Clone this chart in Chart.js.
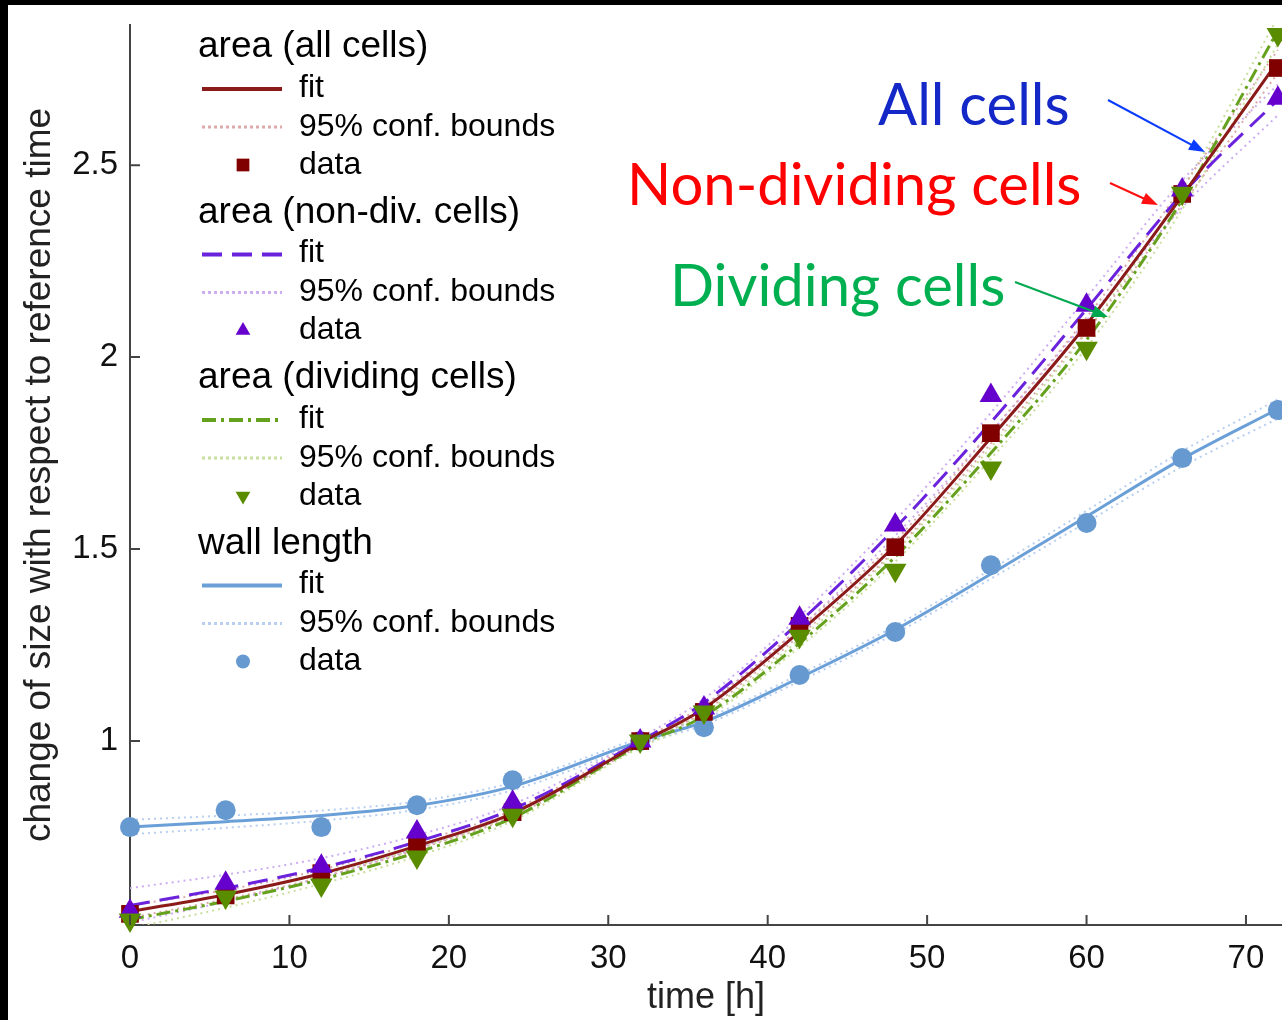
<!DOCTYPE html>
<html lang="en">
<head>
  <meta charset="UTF-8" />
  <title>Change of size over time</title>
  <script src="https://cdn.jsdelivr.net/npm/chart.js"></script>
  <style>
    html, body { margin: 0; padding: 0; background: #000; }
    body { width: 1282px; height: 1020px; overflow: hidden; position: relative; }
    #wrap { position: absolute; left: 8px; top: 5px; width: 1274px; height: 1015px; background: #fff; }
  </style>
</head>
<body>
  <div id="wrap"><canvas id="growthChart" width="1274" height="1015"></canvas></div>

  <script>
    // sampling times [h]
    const times = [0, 6, 12, 18, 24, 32, 36, 42, 48, 54, 60, 66, 72];

    // area (all cells)
    const allData  = [0.550, 0.598, 0.656, 0.733, 0.815, 1.000, 1.076, 1.300, 1.505, 1.802, 2.076, 2.425, 2.753];
    const allFit   = [0.556, 0.600, 0.655, 0.727, 0.812, 0.995, 1.085, 1.285, 1.510, 1.790, 2.085, 2.420, 2.770];
    const allUpper = [0.572, 0.612, 0.665, 0.736, 0.820, 1.002, 1.093, 1.295, 1.522, 1.805, 2.103, 2.443, 2.800];
    const allLower = [0.540, 0.588, 0.645, 0.718, 0.804, 0.988, 1.077, 1.275, 1.498, 1.775, 2.067, 2.397, 2.740];

    // area (non-dividing cells)
    const nonDivData  = [0.557, 0.630, 0.674, 0.763, 0.841, 1.000, 1.086, 1.320, 1.563, 1.900, 2.135, 2.435, 2.674];
    const nonDivFit   = [0.572, 0.617, 0.670, 0.738, 0.823, 1.000, 1.100, 1.310, 1.555, 1.830, 2.125, 2.425, 2.670];
    const nonDivUpper = [0.617, 0.652, 0.695, 0.755, 0.835, 1.008, 1.110, 1.325, 1.575, 1.855, 2.155, 2.460, 2.710];
    const nonDivLower = [0.527, 0.582, 0.645, 0.721, 0.811, 0.992, 1.090, 1.295, 1.535, 1.805, 2.095, 2.390, 2.630];

    // area (dividing cells)
    const divData  = [0.534, 0.594, 0.625, 0.698, 0.807, 1.000, 1.076, 1.273, 1.445, 1.711, 2.023, 2.427, 2.840];
    const divFit   = [0.535, 0.583, 0.640, 0.710, 0.800, 0.990, 1.065, 1.255, 1.480, 1.750, 2.045, 2.410, 2.850];
    const divUpper = [0.558, 0.600, 0.652, 0.720, 0.808, 0.997, 1.073, 1.265, 1.493, 1.765, 2.065, 2.435, 2.885];
    const divLower = [0.512, 0.566, 0.628, 0.700, 0.792, 0.983, 1.057, 1.245, 1.467, 1.735, 2.025, 2.385, 2.815];

    // wall length
    const wallData  = [0.776, 0.820, 0.776, 0.833, 0.898, 1.000, 1.036, 1.172, 1.284, 1.458, 1.568, 1.737, 1.862];
    const wallFit   = [0.776, 0.790, 0.806, 0.832, 0.882, 1.000, 1.050, 1.165, 1.290, 1.435, 1.585, 1.735, 1.865];
    const wallUpper = [0.795, 0.806, 0.819, 0.843, 0.892, 1.008, 1.058, 1.174, 1.300, 1.447, 1.600, 1.755, 1.890];
    const wallLower = [0.757, 0.774, 0.793, 0.821, 0.872, 0.992, 1.042, 1.156, 1.280, 1.423, 1.570, 1.715, 1.840];

    const xTicks = [0, 10, 20, 30, 40, 50, 60, 70];
    const yTicks = [1, 1.5, 2, 2.5];

    const pts = vals => times.map((t, i) => ({ x: t, y: vals[i] }));

    const series = [
      { title: 'area (all cells)', data: allData, fit: allFit, up: allUpper, lo: allLower,
        line: '#8b1a1a', bound: '#dcaaaa', marker: '#800000', dash: [], style: 'rect', r: 12.5, rot: 0, mOrder: 2 },
      { title: 'area (non-div. cells)', data: nonDivData, fit: nonDivFit, up: nonDivUpper, lo: nonDivLower,
        line: '#6a22dd', bound: '#cdaef2', marker: '#6600cc', dash: [20, 10], style: 'triangle', r: 13, rot: 0, mOrder: 1 },
      { title: 'area (dividing cells)', data: divData, fit: divFit, up: divUpper, lo: divLower,
        line: '#66a11e', bound: '#c8de9c', marker: '#5a8c00', dash: [14, 5, 3, 5], style: 'triangle', r: 13, rot: 180, mOrder: 0 },
      { title: 'wall length', data: wallData, fit: wallFit, up: wallUpper, lo: wallLower,
        line: '#6a9fd8', bound: '#b8cff0', marker: '#6699d0', dash: [], style: 'circle', r: 10, rot: 0, mOrder: 3 }
    ];

    const datasets = [];
    series.forEach(s => {
      datasets.push({ data: pts(s.data), showLine: false, pointStyle: s.style, pointRadius: s.r, pointRotation: s.rot,
        backgroundColor: s.marker, borderColor: s.marker, borderWidth: 0, order: s.mOrder, clip: false });
      datasets.push({ data: pts(s.fit), showLine: true, pointRadius: 0, borderColor: s.line, borderWidth: 3,
        borderDash: s.dash, cubicInterpolationMode: 'monotone', order: 10 });
      [s.up, s.lo].forEach(b => datasets.push({ data: pts(b), showLine: true, pointRadius: 0, borderColor: s.bound,
        borderWidth: 2, borderDash: [2, 4], cubicInterpolationMode: 'monotone', order: 20 }));
    });

    function drawMarker(ctx, style, x, y, r, rot, color) {
      ctx.fillStyle = color;
      ctx.beginPath();
      if (style === 'rect') {
        const h = r * Math.SQRT1_2;
        ctx.rect(x - h, y - h, 2 * h, 2 * h);
      } else if (style === 'triangle') {
        let a = rot * Math.PI / 180;
        for (let k = 0; k < 3; k++) {
          const px = x + Math.sin(a) * r, py = y - Math.cos(a) * r;
          k ? ctx.lineTo(px, py) : ctx.moveTo(px, py);
          a += 2 * Math.PI / 3;
        }
        ctx.closePath();
      } else {
        ctx.arc(x, y, r, 0, 2 * Math.PI);
      }
      ctx.fill();
    }

    // MATLAB style ticks pointing into the plot
    const inwardTicks = {
      id: 'inwardTicks',
      afterDatasetsDraw(chart) {
        const { ctx, chartArea: a, scales: { x, y } } = chart;
        ctx.save();
        ctx.strokeStyle = '#444';
        ctx.lineWidth = 2;
        ctx.beginPath();
        xTicks.forEach(v => { const px = x.getPixelForValue(v); ctx.moveTo(px, a.bottom); ctx.lineTo(px, a.bottom - 10); });
        yTicks.forEach(v => { const py = y.getPixelForValue(v); ctx.moveTo(a.left, py); ctx.lineTo(a.left + 10, py); });
        ctx.stroke();
        ctx.restore();
      }
    };

    // grouped legend, top left
    const groupLegend = {
      id: 'groupLegend',
      afterDraw(chart) {
        const ctx = chart.ctx;
        ctx.save();
        ctx.textBaseline = 'middle';
        series.forEach((s, i) => {
          const y0 = 42 + i * 165.5;
          ctx.fillStyle = '#000';
          ctx.font = '37px "Liberation Sans", Arial, sans-serif';
          ctx.fillText(s.title, 190, y0);
          ctx.font = '32px "Liberation Sans", Arial, sans-serif';
          ctx.fillText('fit', 291, y0 + 41);
          ctx.fillText('95% conf. bounds', 291, y0 + 80);
          ctx.fillText('data', 291, y0 + 118);

          ctx.lineWidth = 4;
          ctx.strokeStyle = s.line;
          ctx.setLineDash(s.dash);
          ctx.beginPath(); ctx.moveTo(194, y0 + 42); ctx.lineTo(274, y0 + 42); ctx.stroke();
          ctx.lineWidth = 3;
          ctx.strokeStyle = s.bound;
          ctx.setLineDash([3, 3]);
          ctx.beginPath(); ctx.moveTo(194, y0 + 80); ctx.lineTo(274, y0 + 80); ctx.stroke();
          ctx.setLineDash([]);
          const small = s.style === 'circle' ? 7 : s.style === 'rect' ? 9 : 8.5;
          drawMarker(ctx, s.style, 235, y0 + 118, small, s.rot, s.marker);
        });
        ctx.restore();
      }
    };

    // coloured labels with arrows
    const callouts = [
      { text: 'All cells', color: '#1428c8', x: 870, y: 120, arrow: '#0a3cff', from: [1100, 95], to: [1197, 147] },
      { text: 'Non-dividing cells', color: '#ff0000', x: 619, y: 200, arrow: '#ff1010', from: [1102, 178], to: [1150, 200] },
      { text: 'Dividing cells', color: '#00b050', x: 662, y: 301, arrow: '#00a850', from: [1007, 277], to: [1100, 312] }
    ];
    const annotations = {
      id: 'annotations',
      afterDraw(chart) {
        const ctx = chart.ctx;
        ctx.save();
        ctx.font = '58px Lato, "Open Sans", sans-serif';
        ctx.textBaseline = 'alphabetic';
        callouts.forEach(c => {
          ctx.fillStyle = c.color;
          ctx.fillText(c.text, c.x, c.y);
          const [x1, y1] = c.from, [x2, y2] = c.to;
          const ang = Math.atan2(y2 - y1, x2 - x1);
          ctx.strokeStyle = c.arrow;
          ctx.lineWidth = 2;
          ctx.beginPath();
          ctx.moveTo(x1, y1);
          ctx.lineTo(x2 - 12 * Math.cos(ang), y2 - 12 * Math.sin(ang));
          ctx.stroke();
          ctx.fillStyle = c.arrow;
          ctx.beginPath();
          ctx.moveTo(x2, y2);
          ctx.lineTo(x2 - 16 * Math.cos(ang) + 6 * Math.sin(ang), y2 - 16 * Math.sin(ang) - 6 * Math.cos(ang));
          ctx.lineTo(x2 - 16 * Math.cos(ang) - 6 * Math.sin(ang), y2 - 16 * Math.sin(ang) + 6 * Math.cos(ang));
          ctx.closePath();
          ctx.fill();
        });
        ctx.restore();
      }
    };

    new Chart(document.getElementById('growthChart'), {
      type: 'scatter',
      data: { datasets },
      plugins: [inwardTicks, groupLegend, annotations],
      options: {
        responsive: false,
        animation: false,
        layout: { autoPadding: false, padding: { top: 20, right: 0, left: 0, bottom: 0 } },
        plugins: { legend: { display: false }, tooltip: { enabled: false } },
        scales: {
          x: {
            type: 'linear', min: 0, max: 72.26,
            afterFit: s => { s.height = 95; s.paddingLeft = 0; s.paddingRight = 0; },
            afterBuildTicks: s => { s.ticks = xTicks.map(v => ({ value: v })); },
            grid: { display: false, drawTicks: false },
            border: { display: true, color: '#444', width: 2 },
            ticks: { padding: 14, color: '#111', callback: v => String(v),
              font: { family: '"Liberation Sans", Arial, sans-serif', size: 33 } },
            title: { display: true, text: 'time [h]', color: '#222', padding: { top: 0, bottom: 0 },
              font: { family: '"Liberation Sans", Arial, sans-serif', size: 36 } }
          },
          y: {
            type: 'linear', min: 0.521, max: 2.865,
            afterFit: s => { s.width = 122; s.paddingTop = 0; s.paddingBottom = 0; },
            afterBuildTicks: s => { s.ticks = yTicks.map(v => ({ value: v })); },
            grid: { display: false, drawTicks: false },
            border: { display: true, color: '#444', width: 2 },
            ticks: { padding: 12, color: '#111', callback: v => String(v),
              font: { family: '"Liberation Sans", Arial, sans-serif', size: 33 } },
            title: { display: true, text: 'change of size with respect to reference time', color: '#222',
              padding: { top: 10, bottom: 0 }, font: { family: '"Liberation Sans", Arial, sans-serif', size: 37 } }
          }
        }
      }
    });
  </script>
</body>
</html>
